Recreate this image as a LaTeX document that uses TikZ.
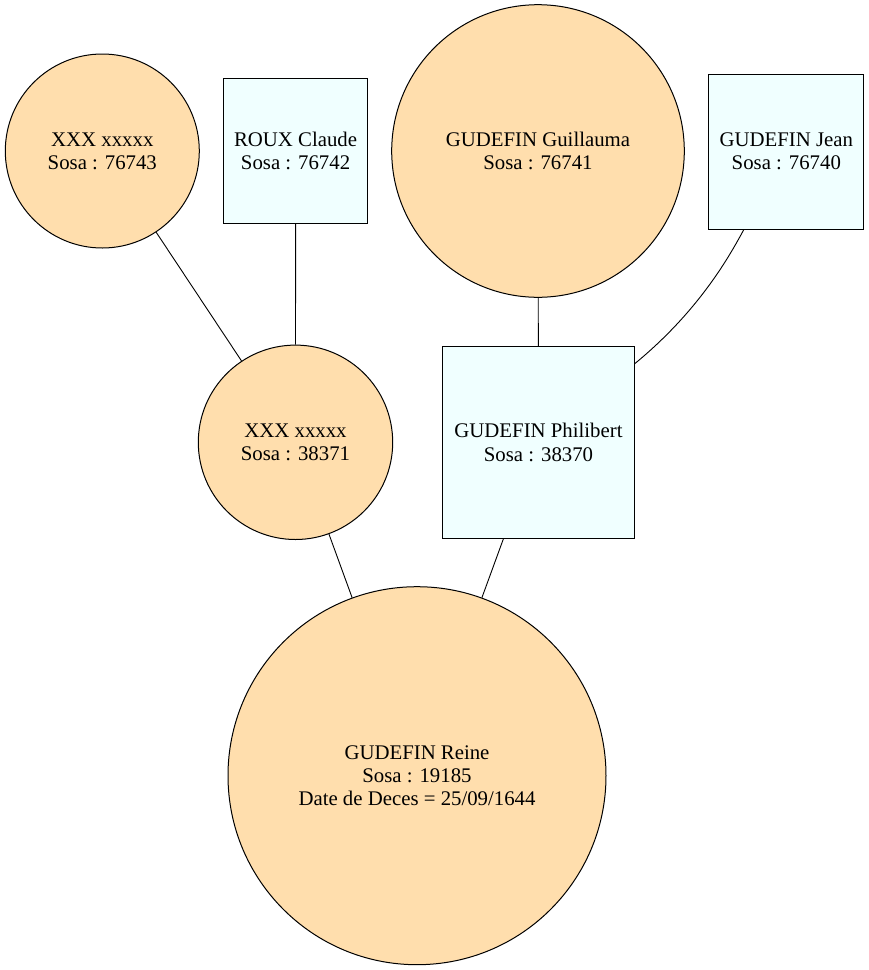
\documentclass[tikz,border=0pt]{standalone}
\usepackage{fontspec}
\setmainfont{Liberation Serif}
\definecolor{femme}{HTML}{FFDEAD}
\definecolor{homme}{HTML}{F0FFFF}
\begin{document}
\begin{tikzpicture}[x=1pt,y=-1pt,
  every node/.style={font=\fontsize{20.8}{23.3}\selectfont, align=center, inner sep=0pt, line width=1pt, draw=black},
  woman/.style={circle, fill=femme, minimum size=#1},
  man/.style={rectangle, fill=homme, minimum width=#1, minimum height=#1},
  link/.style={line width=0.9pt, draw=black}]
\useasboundingbox (0,0) rectangle (869,970);

% generation 3
\node[woman=194pt] (p76743) at (102.3,151) {XXX xxxxx\\Sosa : 76743};
\node[man=144.5pt] (p76742) at (295.6,151.2) {ROUX Claude\\Sosa : 76742};
\node[woman=292.6pt] (p76741) at (538,151) {GUDEFIN Guillauma\\Sosa : 76741};
\node[man=155pt] (p76740) at (786.3,151.5) {GUDEFIN Jean\\Sosa : 76740};

% generation 2
\node[woman=194.4pt] (p38371) at (295.5,442.3) {XXX xxxxx\\Sosa : 38371};
\node[man=191.6pt] (p38370) at (538.5,442.5) {GUDEFIN Philibert\\Sosa : 38370};

% generation 1
\node[woman=378pt] (p19185) at (417,775.7) {GUDEFIN Reine\\Sosa : 19185\\Date de Deces = 25/09/1644};

% parent links
\draw[link] (p76743) -- (p38371);
\draw[link] (p76742) -- (p38371);
\draw[link] (p76741) -- (p38370);
\draw[link] (p76740) .. controls (730,255) and (700,310) .. (p38370);
\draw[link] (p38371) -- (p19185);
\draw[link] (p38370) -- (p19185);
\end{tikzpicture}
\end{document}
